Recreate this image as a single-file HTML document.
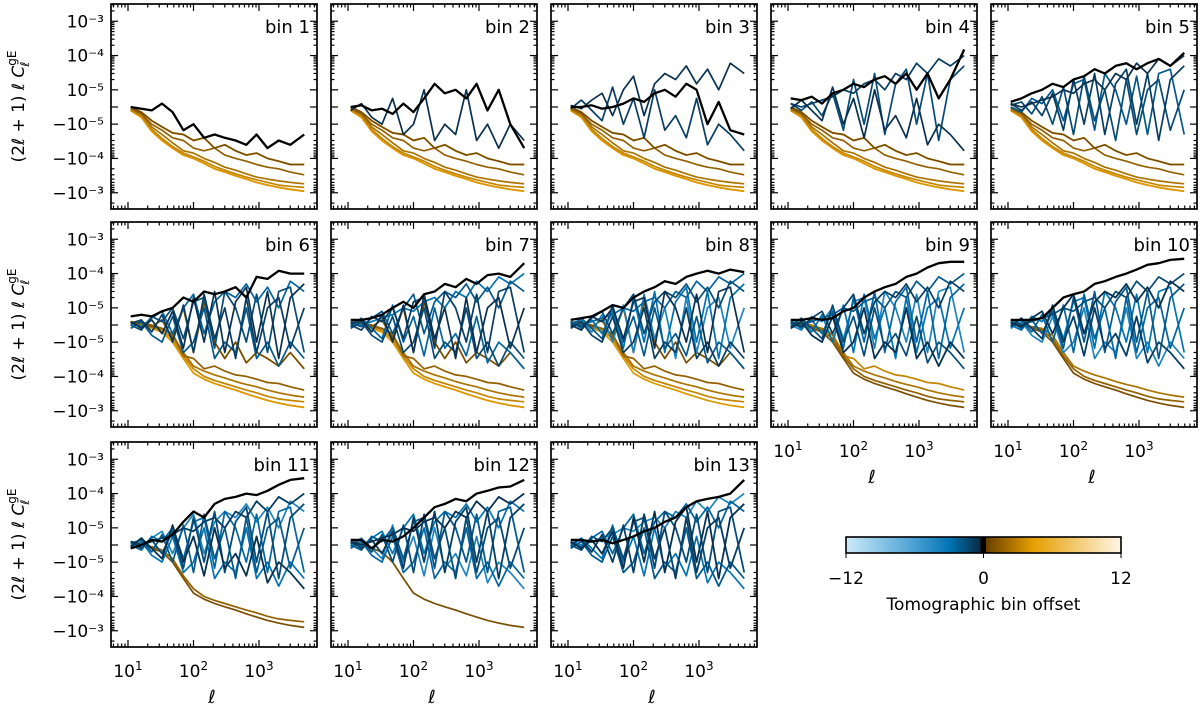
<!DOCTYPE html>
<html><head><meta charset="utf-8">
<style>
html,body{margin:0;padding:0;background:#fff;}
svg{display:block;font-family:"DejaVu Sans","Liberation Sans",sans-serif;}
</style></head>
<body>
<svg id="fig" width="1200" height="708" viewBox="0 0 1200 708" xmlns="http://www.w3.org/2000/svg">
<defs>
<linearGradient id="cbg" x1="0" x2="1" y1="0" y2="0">
<stop offset="0" stop-color="#cdeaf8"/><stop offset="0.25" stop-color="#4aa0d4"/><stop offset="0.38" stop-color="#0072b2"/><stop offset="0.49" stop-color="#0a2a40"/><stop offset="0.49" stop-color="#000"/><stop offset="0.51" stop-color="#000"/><stop offset="0.51" stop-color="#6a4000"/><stop offset="0.68" stop-color="#e69f00"/><stop offset="1" stop-color="#fff6e6"/>
</linearGradient>
</defs>
<g id="panels"></g>
<g>
<rect x="846" y="537" width="275" height="16" fill="url(#cbg)" stroke="#000" stroke-width="1.6"/>
<line x1="846" y1="553" x2="846" y2="558" stroke="#000"/>
<line x1="983.5" y1="553" x2="983.5" y2="558" stroke="#000"/>
<line x1="1121" y1="553" x2="1121" y2="558" stroke="#000"/>
<text x="846" y="584" font-size="17" text-anchor="middle">−12</text>
<text x="983.5" y="584" font-size="17" text-anchor="middle">0</text>
<text x="1121" y="584" font-size="17" text-anchor="middle">12</text>
<text x="983.5" y="610" font-size="17" text-anchor="middle">Tomographic bin offset</text>
</g>
</svg>
<script>
const ells=[11,16,23,33,48,70,100,145,210,300,440,640,920,1350,2000,3000,4900];
const blackLines=[
[0,-1e-6,-2e-6,2e-6,-3e-6,-1.5e-5,-1e-5,-2.5e-5,-2e-5,-2.5e-5,-3e-5,-4e-5,-2e-5,-5e-5,-3e-5,-4e-5,-2e-5],
[0,1e-6,-2e-6,-1e-6,-4e-6,2e-6,-3e-6,5e-6,1.5e-5,8e-6,1e-5,5e-6,1.5e-5,-2e-6,1e-5,-1e-5,-5e-5],
[0,0,1e-6,-1e-6,0,2e-6,5e-6,3e-6,8e-6,1e-5,6e-6,1.5e-5,1e-5,-1e-5,3e-6,-1.5e-5,-2e-5],
[5e-6,4e-6,6e-6,2e-6,8e-6,1e-5,1.5e-5,1.2e-5,2e-5,2.5e-5,1.5e-5,3e-5,1e-5,3e-5,5e-6,2e-5,1.5e-4],
[3e-6,5e-6,8e-6,1e-5,1.5e-5,1.2e-5,2e-5,2.5e-5,4e-5,3e-5,5e-5,6e-5,4e-5,6e-5,8e-5,5e-5,1.2e-4],
[5e-6,6e-6,5e-6,8e-6,1e-5,2e-5,1.5e-5,3e-5,2.5e-5,3e-5,4e-5,2e-5,8e-5,7e-5,1.2e-4,1e-4,1e-4],
[3e-6,3e-6,4e-6,6e-6,1e-5,1.5e-5,1e-5,2.5e-5,3e-5,5e-5,4e-5,7e-5,5e-5,9e-5,1e-4,8e-5,2e-4],
[3e-6,4e-6,5e-6,8e-6,1.2e-5,1e-5,2e-5,3e-5,4e-5,6e-5,5e-5,8e-5,1e-4,1.2e-4,1e-4,1.3e-4,1.1e-4],
[3e-6,3e-6,4e-6,3e-6,4e-6,8e-6,1e-5,2e-5,3e-5,4e-5,5e-5,8e-5,1e-4,1.5e-4,2e-4,2.2e-4,2.2e-4],
[3e-6,3e-6,3e-6,4e-6,1e-5,2e-5,2.5e-5,3e-5,5e-5,6e-5,8e-5,1e-4,1.3e-4,1.8e-4,2e-4,2.5e-4,2.7e-4],
[-2e-6,0,3e-6,2e-6,6e-6,1.5e-5,3e-5,2e-5,5e-5,7e-5,8e-5,1e-4,9e-5,1.2e-4,1.8e-4,2.5e-4,2.8e-4],
[3e-6,3e-6,-2e-6,3e-6,2e-6,5e-6,1e-5,2e-5,4e-5,5e-5,7e-5,6e-5,1e-4,1.2e-4,1.5e-4,1.6e-4,2.5e-4],
[3e-6,3e-6,2e-6,3e-6,1e-6,3e-6,5e-6,8e-6,1e-5,1.5e-5,2e-5,4e-5,6e-5,7e-5,8e-5,1e-4,2.5e-4]
];
const bluePool=[
[2e-6,-2e-6,3e-6,-5e-6,8e-6,-1.5e-5,2e-5,-1e-5,3e-5,-2e-5,1.5e-5,4e-5,-1e-5,3e-5,-3e-5,2e-5,5e-5],
[1e-6,3e-6,-4e-6,6e-6,-1e-5,1.2e-5,-2e-5,2.5e-5,-8e-6,1e-5,-3e-5,2e-5,-2e-5,1e-5,2e-5,-1.5e-5,1e-5],
[0,-3e-6,5e-6,2e-6,1e-5,-8e-6,1.5e-5,2e-5,-1.5e-5,3e-5,1e-5,-1e-5,2.5e-5,-2e-5,3e-5,4e-5,-2e-5],
[-2e-6,2e-6,-6e-6,-1e-5,5e-6,-2e-5,-1e-5,1e-5,-3e-5,-1e-5,-2e-5,1e-5,-3e-5,-1e-5,-5e-5,-1e-5,-3e-5],
[1e-6,-1e-6,4e-6,8e-6,-5e-6,1e-5,2.5e-5,-5e-6,1.5e-5,3e-5,2e-5,5e-5,1.5e-5,4e-5,1e-5,6e-5,3e-5],
[-1e-6,4e-6,-2e-6,-8e-6,1.2e-5,-1e-5,5e-6,-2.5e-5,1e-5,-1.5e-5,-5e-6,-2.5e-5,5e-6,-4e-5,-1e-5,-2e-5,-6e-5],
[2e-6,0,2e-6,4e-6,6e-6,1e-5,8e-6,1.5e-5,2e-5,1e-5,3e-5,2e-5,6e-5,3e-5,8e-5,5e-5,1e-4]
];
const earlyOrange=[
[0,-3e-6,-8e-6,-1.2e-5,-1.8e-5,-2e-5,-3e-5,-2.5e-5,-5e-5,-4e-5,-6e-5,-8e-5,-7e-5,-1e-4,-1.2e-4,-1.5e-4,-1.5e-4],
[-1e-6,-4e-6,-1e-5,-1.5e-5,-2.5e-5,-3e-5,-5e-5,-6e-5,-5e-5,-8e-5,-1e-4,-1.2e-4,-1.5e-4,-1.8e-4,-2e-4,-2.5e-4,-3e-4],
[-1e-6,-4e-6,-1.2e-5,-2e-5,-3.5e-5,-6e-5,-7e-5,-1e-4,-1.3e-4,-1.8e-4,-2.2e-4,-2.8e-4,-3.5e-4,-4e-4,-4.5e-4,-5e-4,-5.5e-4],
[-2e-6,-5e-6,-1.4e-5,-2.6e-5,-4.5e-5,-7e-5,-9e-5,-1.2e-4,-1.7e-4,-2.2e-4,-2.8e-4,-3.5e-4,-4.2e-4,-5e-4,-6e-4,-6.5e-4,-7e-4],
[-2e-6,-6e-6,-1.6e-5,-3e-5,-5e-5,-8e-5,-1e-4,-1.4e-4,-2e-4,-2.5e-4,-3.2e-4,-4e-4,-5e-4,-6e-4,-7e-4,-8e-4,-9e-4]
];
const lateOrange=[
[1e-6,2e-6,-1e-6,3e-6,-8e-6,1e-5,-2e-5,1.5e-5,-1e-5,-3e-5,-1e-5,-4e-5,-2e-5,-3e-5,-5e-5,-2e-5,-6e-5],
[1e-6,1e-6,0,-2e-6,-5e-6,-2.5e-5,-3e-5,-6e-5,-5e-5,-7e-5,-9e-5,-1e-4,-1.2e-4,-1.5e-4,-1.6e-4,-2e-4,-2.5e-4],
[1e-6,0,-1e-6,-2e-6,-6e-6,-2e-5,-5e-5,-7e-5,-9e-5,-1.1e-4,-1.4e-4,-1.7e-4,-2e-4,-2.5e-4,-3e-4,-3.5e-4,-4e-4],
[2e-6,0,-1e-6,-3e-6,-8e-6,-2.5e-5,-6e-5,-1e-4,-1.3e-4,-1.6e-4,-2e-4,-2.5e-4,-3e-4,-3.8e-4,-4.5e-4,-5e-4,-5.5e-4],
[2e-6,1e-6,-2e-6,-4e-6,-1e-5,-3e-5,-8e-5,-1.2e-4,-1.6e-4,-2e-4,-2.5e-4,-3.2e-4,-4e-4,-5e-4,-6e-4,-7e-4,-8e-4]
];
const yTickLabels=["10⁻³","10⁻⁴","10⁻⁵","−10⁻⁵","−10⁻⁴","−10⁻³"];
const yTickValues=[1e-3,1e-4,1e-5,-1e-5,-1e-4,-1e-3];
const xTickValues=[10,100,1000];
const xTickExp=["1","2","3"];

const NS="http://www.w3.org/2000/svg";
const colLeft=[111,331,551,771,991], rowTop=[4,222,442];
const PW=206, PH=205, DEC=34.3, DX=65.5;
function mk(tag,attrs,parent){const e=document.createElementNS(NS,tag);for(const k in attrs)e.setAttribute(k,attrs[k]);parent.appendChild(e);return e;}
function sy(v){const a=Math.abs(v);if(a<1e-5)return v/1e-5*0.5;return Math.sign(v)*(0.5+Math.log10(a/1e-5));}
function yOf(top,v){return top+103-sy(v)*DEC;}
function xOf(left,l){return left+17+DX*(Math.log10(l)-1);}
function lerp(a,b,t){return a.map((x,i)=>Math.round(x+(b[i]-x)*t));}
function hex(c){return "rgb("+c.join(",")+")";}
function blueColor(d){const t=(d-1)/11;const dark=[10,48,78],mid=[0,114,178],lt=[170,218,244];return hex(t<0.45?lerp(dark,mid,t/0.45):lerp(mid,lt,(t-0.45)/0.55));}
function orangeColor(d){const t=(d-1)/11;const dark=[122,78,0],mid=[230,159,0],lt=[250,222,175];return hex(t<0.4?lerp(dark,mid,t/0.4):lerp(mid,lt,(t-0.4)/0.6));}
const root=document.getElementById('panels');
for(let b=1;b<=13;b++){
  const r=Math.floor((b-1)/5), c=(b-1)%5;
  const L=colLeft[c], T=rowTop[r];
  const g=mk('g',{},root);
  
  
  const clip=mk('clipPath',{id:'cp'+b},g);mk('rect',{x:L,y:T,width:PW,height:PH},clip);
  const lines=mk('g',{'clip-path':'url(#cp'+b+')'},g);
  function draw(arr,col,w,name){
    const d=arr.map((v,i)=>(i?'L':'M')+xOf(L,ells[i]).toFixed(1)+','+yOf(T,v).toFixed(1)).join('');
    const p=mk('path',{d:d,fill:'none',stroke:col,'stroke-width':w,'stroke-linejoin':'round'},lines);
    
    
  }
  const nO=13-b;
  for(let d=nO;d>=1;d--){
    const pool=b<=5?earlyOrange:lateOrange;
    let idx;
    if(b>=9) idx=Math.max(0,pool.length-d);
    else idx=Math.min(d-1,pool.length-1);
    if(d>pool.length) idx=(idx+d%2)%pool.length;
    draw(pool[idx],orangeColor(d),1.7,'line-offset-plus-'+d);
  }
  const nB=b-1;
  for(let d=nB;d>=1;d--){
    draw(bluePool[(d+b)%bluePool.length],blueColor(d),1.7,'line-offset-minus-'+d);
  }
  draw(blackLines[b-1],'#000',2.3,'line-offset-0');
  const fr=mk('rect',{x:L,y:T,width:PW,height:PH,fill:'none',stroke:'#000','stroke-width':1.7},g);
  
  
  const tk=mk('g',{stroke:'#000','stroke-width':1.2},g);
  [0].concat(yTickValues).forEach(v=>{const y=yOf(T,v);mk('line',{x1:L,x2:L+7,y1:y,y2:y},tk);mk('line',{x1:L+PW-7,x2:L+PW,y1:y,y2:y},tk);});
  [-1,1].forEach(s=>{for(let e=-5;e<=-3;e++)for(let m=2;m<=9;m++){const v=s*m*Math.pow(10,e);if(Math.abs(v)>5e-3)continue;const y=yOf(T,v);if(y<T||y>T+PH)continue;mk('line',{x1:L,x2:L+3.5,y1:y,y2:y},tk);mk('line',{x1:L+PW-3.5,x2:L+PW,y1:y,y2:y},tk);}});
  for(let e=0;e<=3;e++)for(let m=1;m<=9;m++){const l=m*Math.pow(10,e);const x=xOf(L,l);if(x<L||x>L+PW)continue;const len=m===1?7:3.5;mk('line',{x1:x,x2:x,y1:T+PH,y2:T+PH-len},tk);mk('line',{x1:x,x2:x,y1:T,y2:T+len},tk);}
  const bl=mk('text',{x:L+PW-7,y:T+29,'font-size':18,'text-anchor':'end'},g);bl.textContent='bin '+b;
  
  
  if(c===0){
    yTickValues.forEach((v,i)=>{const t=mk('text',{x:L-7,y:yOf(T,v)+6,'font-size':17,'text-anchor':'end'},g);t.textContent=yTickLabels[i];
      
      });
    const yt=mk('text',{x:0,y:0,'font-size':17,'text-anchor':'middle',transform:'translate(24,'+(T+PH/2)+') rotate(-90)'},g);
    yt.innerHTML='(2<tspan font-style="italic">ℓ</tspan> + 1) <tspan font-style="italic">ℓ C</tspan><tspan font-size="12" dy="-8">gE</tspan><tspan font-size="12" font-style="italic" dx="-16" dy="13">ℓ</tspan>';
    
    
  }
  if(r===2||b===9||b===10){
    xTickValues.forEach((l,i)=>{const t=mk('text',{x:xOf(L,l),y:T+PH+30,'font-size':17,'text-anchor':'middle'},g);t.innerHTML='10<tspan font-size="12" dy="-7">'+xTickExp[i]+'</tspan>';
      
      });
    const xt=mk('text',{x:L+PW/2-2,y:T+PH+56,'font-size':18,'font-style':'italic','text-anchor':'middle'},g);xt.textContent='ℓ';
    
    
  }
}
</script>
</body></html>
